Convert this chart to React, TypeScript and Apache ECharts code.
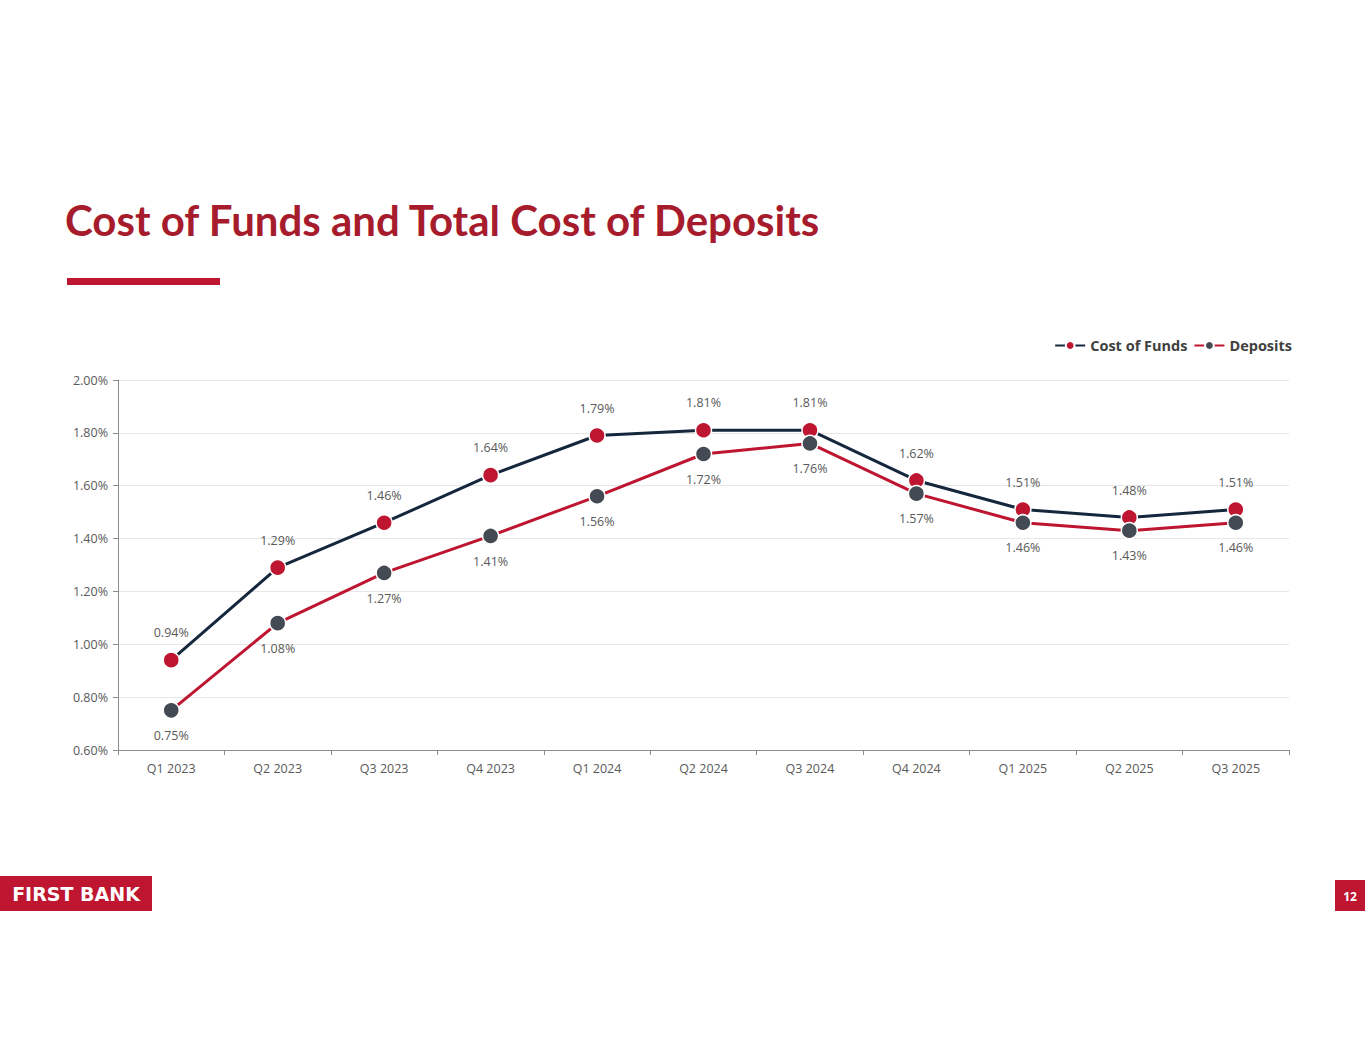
import { useEffect, useRef } from "react";
import * as echarts from "echarts";

// quarters on the x axis
const quarters = [
  "Q1 2023", "Q2 2023", "Q3 2023", "Q4 2023",
  "Q1 2024", "Q2 2024", "Q3 2024", "Q4 2024",
  "Q1 2025", "Q2 2025", "Q3 2025",
];

// values in percent
const costOfFunds = [0.94, 1.29, 1.46, 1.64, 1.79, 1.81, 1.81, 1.62, 1.51, 1.48, 1.51];
const deposits = [0.75, 1.08, 1.27, 1.41, 1.56, 1.72, 1.76, 1.57, 1.46, 1.43, 1.46];

const TITLE = "Cost of Funds and Total Cost of Deposits";
const LOGO_TEXT = "FIRST BANK";
const PAGE_NO = "12";

const RED = "#BE1530";
const DARK_RED = "#A71C2D";
const NAVY = "#15273D";
const GREY = "#434A54";
const TEXT = "#595959";
const FONT = "'Open Sans', sans-serif";

export default function App() {
  const chartRef = useRef<HTMLDivElement>(null);

  useEffect(() => {
    if (!chartRef.current) return;
    const chart = echarts.init(chartRef.current, null, { renderer: "svg" });

    const pct = (v: number) => v.toFixed(2) + "%";

    chart.setOption({
      animation: false,
      backgroundColor: "#fff",
      textStyle: { fontFamily: FONT },
      graphic: [
        {
          type: "text",
          left: 65,
          top: 199,
          style: {
            text: TITLE,
            fill: DARK_RED,
            font: "bold 42px Lato, sans-serif",
          },
        },
        {
          type: "rect",
          shape: { x: 67, y: 278, width: 153, height: 7 },
          style: { fill: RED },
        },
        {
          type: "rect",
          shape: { x: 0, y: 876, width: 152, height: 35 },
          style: { fill: RED },
        },
        {
          type: "text",
          x: 76,
          y: 894,
          style: {
            text: LOGO_TEXT,
            fill: "#fff",
            font: "bold 19px 'DejaVu Sans', sans-serif",
            align: "center",
            verticalAlign: "middle",
          },
        },
        {
          type: "rect",
          shape: { x: 1335, y: 880, width: 30, height: 31 },
          style: { fill: RED },
        },
        {
          type: "text",
          x: 1350,
          y: 896,
          style: {
            text: PAGE_NO,
            fill: "#fff",
            font: "bold 12px 'Open Sans', sans-serif",
            align: "center",
            verticalAlign: "middle",
          },
        },
      ],
      legend: {
        right: 68,
        top: 333,
        itemWidth: 30,
        itemHeight: 11,
        itemGap: 6,
        textStyle: {
          color: "#404040",
          fontSize: 14.5,
          fontWeight: "bold",
          fontFamily: FONT,
        },
        data: ["Cost of Funds", "Deposits"],
      },
      grid: { left: 118, right: 76, top: 380, bottom: 305 },
      xAxis: {
        type: "category",
        data: quarters,
        boundaryGap: true,
        axisLine: { lineStyle: { color: "#8C8C8C", width: 1 } },
        axisTick: { show: true, length: 5, lineStyle: { color: "#8C8C8C" } },
        axisLabel: { color: TEXT, fontSize: 12.5, margin: 12, fontFamily: FONT },
      },
      yAxis: {
        type: "value",
        min: 0.6,
        max: 2.0,
        interval: 0.2,
        axisLine: { show: true, lineStyle: { color: "#8C8C8C", width: 1 } },
        axisTick: { show: true, length: 5, lineStyle: { color: "#8C8C8C" } },
        axisLabel: {
          color: TEXT,
          fontSize: 12.5,
          margin: 10,
          fontFamily: FONT,
          formatter: (v: number) => pct(v),
        },
        splitLine: { lineStyle: { color: "#E6E6E6", width: 1 } },
      },
      series: [
        {
          name: "Cost of Funds",
          type: "line",
          data: costOfFunds,
          symbol: "circle",
          symbolSize: 16,
          lineStyle: { color: NAVY, width: 3 },
          itemStyle: { color: RED, borderColor: "#fff", borderWidth: 1.5 },
          label: {
            show: true,
            position: "top",
            distance: 12,
            color: TEXT,
            fontSize: 12.5,
            fontFamily: FONT,
            formatter: (p: any) => pct(p.value),
          },
        },
        {
          name: "Deposits",
          type: "line",
          data: deposits,
          symbol: "circle",
          symbolSize: 16,
          lineStyle: { color: RED, width: 3 },
          itemStyle: { color: GREY, borderColor: "#fff", borderWidth: 1.5 },
          label: {
            show: true,
            position: "bottom",
            distance: 10,
            color: TEXT,
            fontSize: 12.5,
            fontFamily: FONT,
            formatter: (p: any) => pct(p.value),
          },
        },
      ],
    });

    return () => {
      chart.dispose();
    };
  }, []);

  return (
    <div
      ref={chartRef}
      style={{ position: "absolute", left: 0, top: 0, width: "1365px", height: "1055px" }}
    />
  );
}
